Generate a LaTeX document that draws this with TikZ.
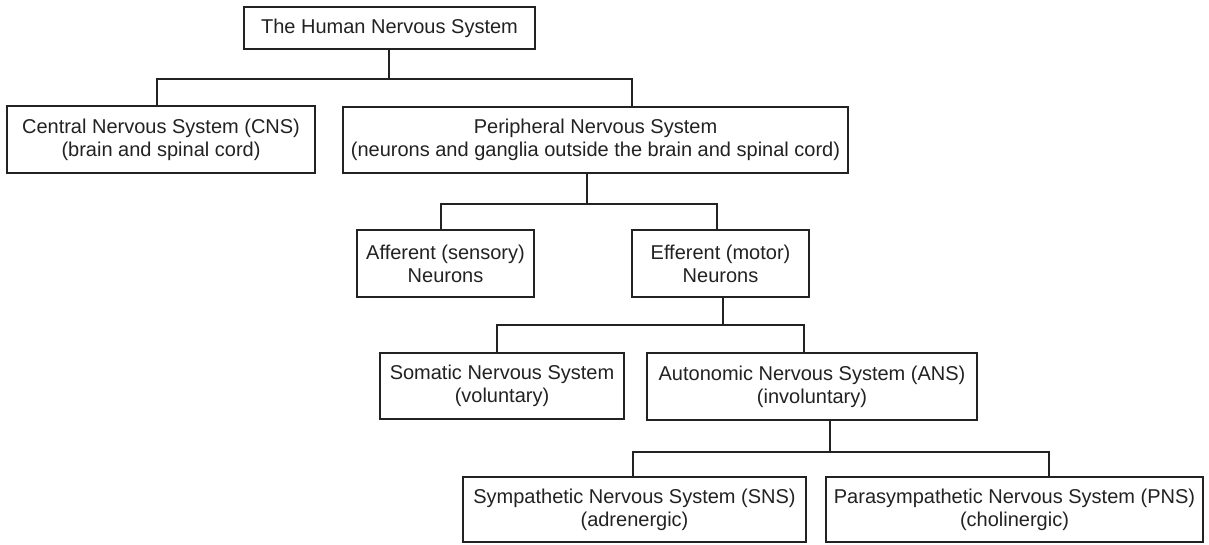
\documentclass[tikz,border=0pt]{standalone}
\usepackage{fontspec}
\setmainfont{Liberation Sans}
\definecolor{ink}{HTML}{222222}
\begin{document}
\begin{tikzpicture}[x=0.75pt,y=-0.75pt,
  nbox/.style 2 args={draw=ink, line width=1.1pt, text=ink, align=center,
    inner sep=0pt, minimum width=#1*0.75pt, minimum height=#2*0.75pt,
    font=\fontsize{15}{17.25}\selectfont},
  conn/.style={draw=ink, line width=1.1pt}]
\useasboundingbox (0,0) rectangle (1209,544);
\fill[white] (0,0) rectangle (1209,544);

\node[nbox={291}{42}] (top) at (389.5,28) {The Human Nervous System};
\node[nbox={308}{67}] (cns) at (161,139.5) {Central Nervous System (CNS)\\(brain and spinal cord)};
\node[nbox={505}{66}] (pns) at (595.5,140) {Peripheral Nervous System\\(neurons and ganglia outside the brain and spinal cord)};
\node[nbox={177}{67}] (aff) at (445.5,263.5) {Afferent (sensory)\\Neurons};
\node[nbox={177}{67}] (eff) at (720.5,263.5) {Efferent (motor)\\Neurons};
\node[nbox={244}{66}] (som) at (502,386) {Somatic Nervous System\\(voluntary)};
\node[nbox={330}{67}] (ans) at (812,386.5) {Autonomic Nervous System (ANS)\\(involuntary)};
\node[nbox={343}{65}] (sns) at (634.5,509.5) {Sympathetic Nervous System (SNS)\\(adrenergic)};
\node[nbox={377}{65}] (psns) at (1014.5,509.5) {Parasympathetic Nervous System (PNS)\\(cholinergic)};

% branch points
\coordinate (a0) at (389,79);
\coordinate (a1) at (157,79);
\coordinate (a2) at (632,79);
\coordinate (b0) at (587,204);
\coordinate (b1) at (441,204);
\coordinate (b2) at (717,204);
\coordinate (c0) at (723,325);
\coordinate (c1) at (497,325);
\coordinate (c2) at (804,325);
\coordinate (d0) at (830,452);
\coordinate (d1) at (633,452);
\coordinate (d2) at (1049,452);

\draw[conn] (top.south -| a0) -- (a0);
\draw[conn] (cns.north -| a1) -- (a1) -- (a2) -- (pns.north -| a2);
\draw[conn] (pns.south -| b0) -- (b0);
\draw[conn] (aff.north -| b1) -- (b1) -- (b2) -- (eff.north -| b2);
\draw[conn] (eff.south -| c0) -- (c0);
\draw[conn] (som.north -| c1) -- (c1) -- (c2) -- (ans.north -| c2);
\draw[conn] (ans.south -| d0) -- (d0);
\draw[conn] (sns.north -| d1) -- (d1) -- (d2) -- (psns.north -| d2);
\end{tikzpicture}
\end{document}
